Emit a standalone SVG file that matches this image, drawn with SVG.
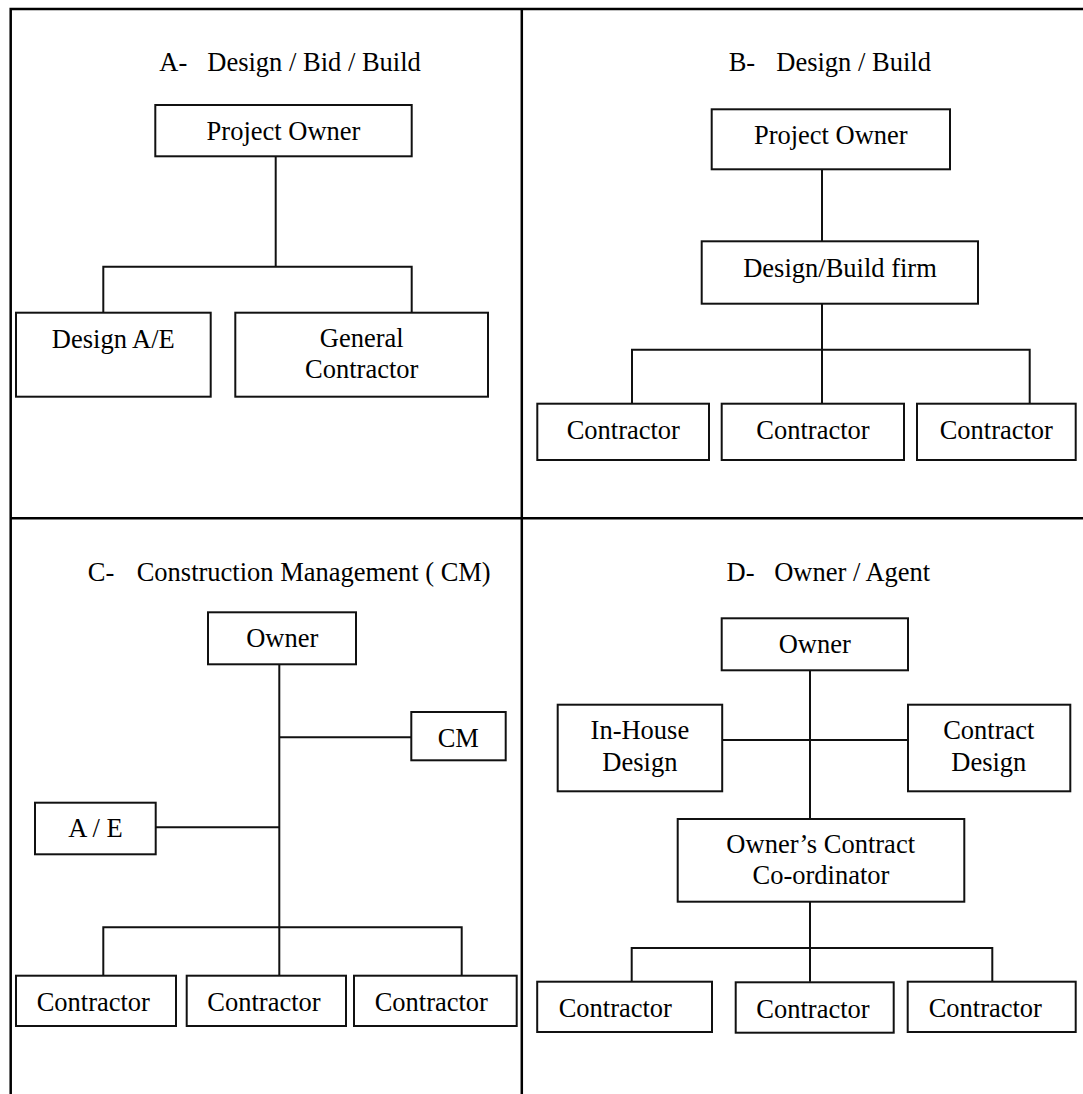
<svg xmlns="http://www.w3.org/2000/svg" width="1083" height="1094" viewBox="0 0 1083 1094">
  <style>
    text { font-family: "Liberation Serif", "Times New Roman", serif; font-size: 26.5px; fill: #000; }
    .c { text-anchor: middle; }
    .box { fill: #fff; stroke: #111; stroke-width: 2; }
    .link { fill: none; stroke: #111; stroke-width: 2; }
    .frame { fill: none; stroke: #000; stroke-width: 2.5; }
  </style>
  <rect width="1083" height="1094" fill="#fff"/>

  <!-- panel frame and dividers -->
  <g id="frame">
    <path class="frame" d="M10.7 1094 V9 H1083"/>
    <path class="frame" d="M521.8 9 V1094"/>
    <path class="frame" d="M10.7 518.3 H1083"/>
  </g>

  <!-- panel titles -->
  <g id="titles">
    <text x="159.3" y="70.7">A-</text><text x="207.3" y="70.7">Design / Bid / Build</text>
    <text x="728.7" y="70.7">B-</text><text x="776.3" y="70.7">Design / Build</text>
    <text x="87.8" y="581">C-</text><text x="136.7" y="581">Construction Management ( CM)</text>
    <text x="726.5" y="580.7">D-</text><text x="774.2" y="580.7">Owner / Agent</text>
  </g>

  <!-- connectors -->
  <g id="connectors">
    <!-- A -->
    <path class="link" d="M275.7 156.3 V266.7"/>
    <path class="link" d="M103.3 312.7 V266.7 H411.7 V312.7"/>
    <!-- B -->
    <path class="link" d="M822 169.3 V241.3"/>
    <path class="link" d="M822 303.7 V403.7"/>
    <path class="link" d="M632 403.7 V349.7 H1029.7 V403.7"/>
    <!-- C -->
    <path class="link" d="M279.3 664.3 V975.7"/>
    <path class="link" d="M279.3 737.3 H411.3"/>
    <path class="link" d="M155.7 827.3 H279.3"/>
    <path class="link" d="M103.3 975.7 V927.3 H461.7 V975.7"/>
    <!-- D -->
    <path class="link" d="M810 670.3 V819"/>
    <path class="link" d="M722.3 740 H908"/>
    <path class="link" d="M810 901.7 V981.7"/>
    <path class="link" d="M631.7 981.7 V948 H992.3 V981.7"/>
  </g>

  <!-- A: Design / Bid / Build -->
  <g id="a-owner">
    <rect class="box" x="155.3" y="105" width="256.4" height="51.3"/>
    <text class="c" x="283.5" y="140">Project Owner</text>
  </g>
  <g id="a-design">
    <rect class="box" x="16" y="312.7" width="194.7" height="84"/>
    <text class="c" x="113.3" y="348.3">Design A/E</text>
  </g>
  <g id="a-gc">
    <rect class="box" x="235.3" y="312.7" width="252.7" height="84"/>
    <text class="c" x="361.7" y="346.7">General</text>
    <text class="c" x="361.7" y="378.3">Contractor</text>
  </g>

  <!-- B: Design / Build -->
  <g id="b-owner">
    <rect class="box" x="711.7" y="109.3" width="238.3" height="60"/>
    <text class="c" x="830.8" y="144.3">Project Owner</text>
  </g>
  <g id="b-firm">
    <rect class="box" x="701.7" y="241.3" width="276.3" height="62.4"/>
    <text class="c" x="840" y="276.7">Design/Build firm</text>
  </g>
  <g id="b-contractor-1">
    <rect class="box" x="537.3" y="403.7" width="171.7" height="56.3"/>
    <text class="c" x="623.3" y="438.5">Contractor</text>
  </g>
  <g id="b-contractor-2">
    <rect class="box" x="721.7" y="403.7" width="182.3" height="56.3"/>
    <text class="c" x="813" y="438.5">Contractor</text>
  </g>
  <g id="b-contractor-3">
    <rect class="box" x="917" y="403.7" width="158.7" height="56.3"/>
    <text class="c" x="996.3" y="438.5">Contractor</text>
  </g>

  <!-- C: Construction Management -->
  <g id="c-owner">
    <rect class="box" x="208" y="612.3" width="148" height="52"/>
    <text class="c" x="282.2" y="647.3">Owner</text>
  </g>
  <g id="c-cm">
    <rect class="box" x="411.3" y="712" width="94.4" height="48.3"/>
    <text class="c" x="458.3" y="747.3">CM</text>
  </g>
  <g id="c-ae">
    <rect class="box" x="35" y="802.7" width="120.7" height="51.6"/>
    <text class="c" x="95.5" y="837.3">A / E</text>
  </g>
  <g id="c-contractor-1">
    <rect class="box" x="16" y="975.7" width="160" height="50.3"/>
    <text class="c" x="93.3" y="1010.7">Contractor</text>
  </g>
  <g id="c-contractor-2">
    <rect class="box" x="186.7" y="975.7" width="159.3" height="50.3"/>
    <text class="c" x="264" y="1010.7">Contractor</text>
  </g>
  <g id="c-contractor-3">
    <rect class="box" x="354" y="975.7" width="162.7" height="50.3"/>
    <text class="c" x="431.3" y="1010.7">Contractor</text>
  </g>

  <!-- D: Owner / Agent -->
  <g id="d-owner">
    <rect class="box" x="721.7" y="618.3" width="186.3" height="52"/>
    <text class="c" x="814.7" y="653.3">Owner</text>
  </g>
  <g id="d-inhouse">
    <rect class="box" x="557.7" y="704.7" width="164.5" height="86.6"/>
    <text class="c" x="639.9" y="739">In-House</text>
    <text class="c" x="639.9" y="770.7">Design</text>
  </g>
  <g id="d-contract-design">
    <rect class="box" x="908" y="704.7" width="162.3" height="86.6"/>
    <text class="c" x="988.8" y="739">Contract</text>
    <text class="c" x="988.8" y="770.7">Design</text>
  </g>
  <g id="d-coordinator">
    <rect class="box" x="677.7" y="819" width="286.6" height="82.7"/>
    <text class="c" x="820.7" y="853.3">Owner’s Contract</text>
    <text class="c" x="821" y="884">Co-ordinator</text>
  </g>
  <g id="d-contractor-1">
    <rect class="box" x="537.2" y="981.7" width="174.8" height="50.3"/>
    <text class="c" x="615.3" y="1016.7">Contractor</text>
  </g>
  <g id="d-contractor-2">
    <rect class="box" x="735.7" y="982.3" width="158" height="50.4"/>
    <text class="c" x="813" y="1018.3">Contractor</text>
  </g>
  <g id="d-contractor-3">
    <rect class="box" x="907.7" y="981.7" width="168" height="50.3"/>
    <text class="c" x="985.3" y="1016.7">Contractor</text>
  </g>
</svg>
